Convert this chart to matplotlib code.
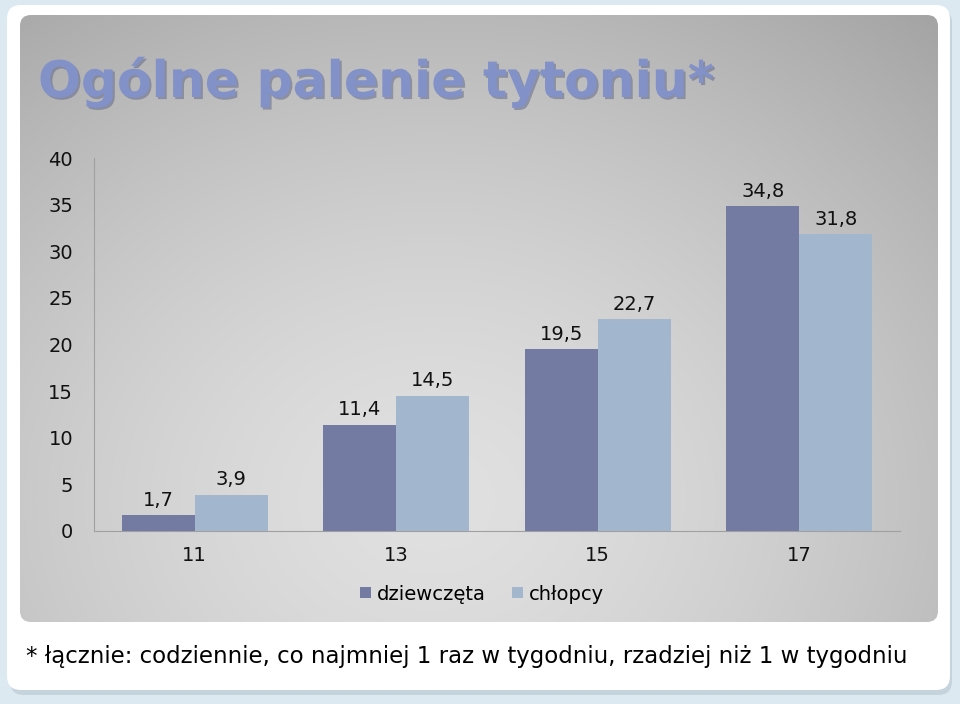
import numpy as np
import matplotlib.pyplot as plt
from matplotlib.patches import FancyBboxPatch
import matplotlib.patheffects as pe

# data
ages = ["11", "13", "15", "17"]
girls = [1.7, 11.4, 19.5, 34.8]
boys = [3.9, 14.5, 22.7, 31.8]
series_names = ["dziewczęta", "chłopcy"]
y_ticks = [0, 5, 10, 15, 20, 25, 30, 35, 40]

title = "Ogólne palenie tytoniu*"
note = "* łącznie: codziennie, co najmniej 1 raz w tygodniu, rzadziej niż 1 w tygodniu"

W, H = 960, 704
fig = plt.figure(figsize=(W / 100, H / 100), dpi=100)
fig.patch.set_facecolor("#dde9f0")

# slide background in pixel coordinates
bg = fig.add_axes([0, 0, 1, 1])
bg.set_xlim(0, W)
bg.set_ylim(H, 0)
bg.axis("off")

shadow = FancyBboxPatch((10, 9), 942, 686, boxstyle="round,pad=0,rounding_size=14",
                        fc="#c5d3dc", ec="none", zorder=0)
bg.add_patch(shadow)
white = FancyBboxPatch((7, 5), 943, 685, boxstyle="round,pad=0,rounding_size=14",
                       fc="white", ec="none", zorder=1)
bg.add_patch(white)

# grey gradient panel
gx, gy = np.meshgrid(np.linspace(0, 1, 300), np.linspace(0, 1, 200))
r = np.sqrt(((gx - 0.45) / 0.8) ** 2 + ((gy - 0.8) / 1.0) ** 2)
shade = np.clip(0.88 - 0.22 * r ** 1.5, 0.64, 0.9)
img = bg.imshow(np.dstack([shade] * 3), extent=(20, 938, 622, 15), zorder=2,
                interpolation="bilinear", aspect="auto")
panel = FancyBboxPatch((20, 15), 918, 607, boxstyle="round,pad=0,rounding_size=11",
                       fc="none", ec="none", zorder=2, transform=bg.transData)
bg.add_patch(panel)
img.set_clip_path(panel)

bg.text(38, 82, title, fontsize=36.3, fontweight="bold", color="#8292c8",
        family="DejaVu Sans", va="center", ha="left", zorder=5,
        path_effects=[pe.withSimplePatchShadow(offset=(1.5, -1.5), shadow_rgbFace="#5a6283", alpha=0.5)])
bg.text(26, 656, note, fontsize=16.5, color="black", family="DejaVu Sans",
        va="center", ha="left", zorder=5)

# chart
ax = fig.add_axes([94 / W, (H - 531) / H, 806 / W, (531 - 158) / H])
ax.patch.set_alpha(0)
x = np.arange(len(ages))
bw = 0.362
b1 = ax.bar(x - bw / 2, girls, bw, color="#737ba3", label=series_names[0], zorder=3)
b2 = ax.bar(x + bw / 2, boys, bw, color="#a2b7cd", label=series_names[1], zorder=3)
for bars, vals in ((b1, girls), (b2, boys)):
    ax.bar_label(bars, labels=[f"{v:.1f}".replace(".", ",") for v in vals],
                 padding=4, fontsize=14, color="#111111")

ax.set_xlim(-0.5, 3.5)
ax.set_ylim(0, 40)
ax.set_yticks(y_ticks)
ax.set_xticks(x)
ax.set_xticklabels(ages)
ax.tick_params(axis="both", length=0, labelsize=14, colors="#111111")
ax.tick_params(axis="x", pad=11)
ax.tick_params(axis="y", pad=15)
for s in ("top", "right"):
    ax.spines[s].set_visible(False)
ax.spines["left"].set_color("#a0a0a0")
ax.spines["bottom"].set_color("#a0a0a0")

ax.legend(loc="center", bbox_to_anchor=(482 / W, (H - 594) / H),
          bbox_transform=fig.transFigure, ncol=2, frameon=False, fontsize=14,
          handlelength=0.55, handleheight=0.55, handletextpad=0.3, columnspacing=1.4)

fig.savefig("out.png", dpi=100, facecolor=fig.get_facecolor())
